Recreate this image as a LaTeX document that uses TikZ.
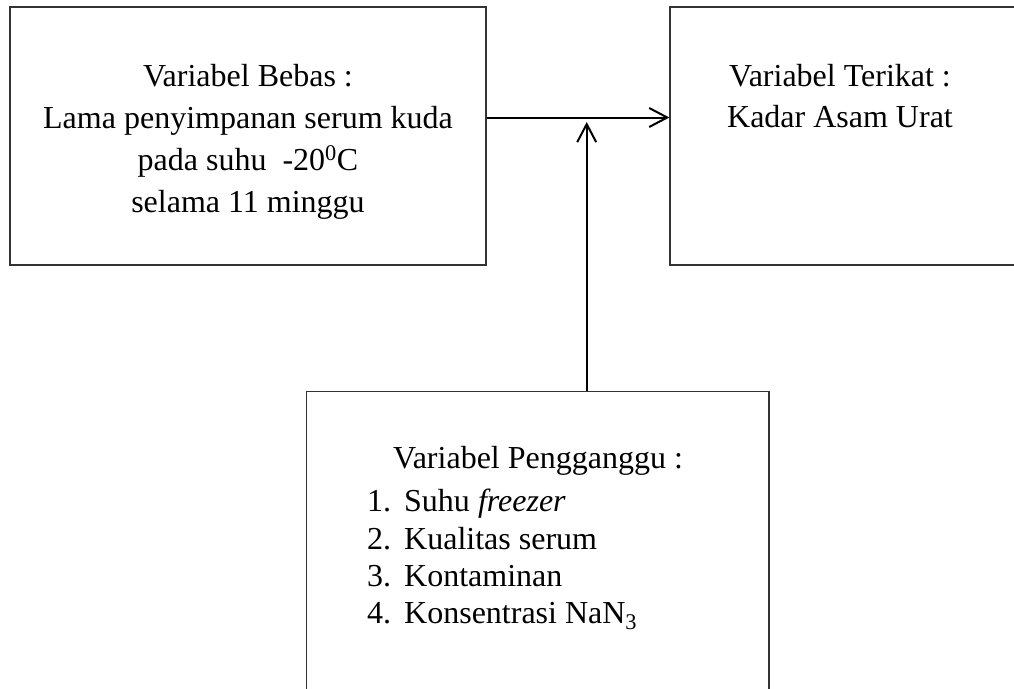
\documentclass[tikz,border=0pt]{standalone}
\usepackage{fontspec}
\setmainfont{Liberation Serif}
\usetikzlibrary{arrows.meta}
\begin{document}
\begin{tikzpicture}[x=1pt,y=-1pt,
  box/.style={draw=black!80,line width=1.3pt,rectangle,inner sep=0pt},
  txt/.style={anchor=base,inner sep=0pt,font=\fontsize{32}{42}\selectfont},
  txtl/.style={anchor=base west,inner sep=0pt,font=\fontsize{32}{42}\selectfont},
  arr/.style={line width=2pt,-{Straight Barb[length=18pt,width=19pt,line width=2pt]}}]
\useasboundingbox (0,0) rectangle (1014,688);
% boxes
\node[box,minimum width=476pt,minimum height=258pt] (free) at (248,136) {};
\node[box,minimum width=360pt,minimum height=258pt] (dep) at (850,136) {};
\node[box,minimum width=462.3pt,minimum height=328.3pt] (conf) at (537.85,555.85) {};
% left text
\node[txt] (f1) at (248,86) {Variabel Bebas :};
\node[txt] (f2) at (248,128) {Lama penyimpanan serum kuda};
\node[txt] (f3) at (248,170) {pada suhu\ \ -20\textsuperscript{0}C};
\node[txt] (f4) at (248,212) {selama 11 minggu};
% right text
\node[txt] (d1) at (840,86) {Variabel Terikat :};
\node[txt] (d2) at (840,127) {Kadar Asam Urat};
% bottom text
\node[txtl] (c0) at (393,468) {Variabel Pengganggu :};
\node[txtl] (n1) at (367,511) {1.};
\node[txtl] (c1) at (404,511) {Suhu \textit{freezer}};
\node[txtl] (n2) at (367,549) {2.};
\node[txtl] (c2) at (404,549) {Kualitas serum};
\node[txtl] (n3) at (367,586) {3.};
\node[txtl] (c3) at (404,586) {Kontaminan};
\node[txtl] (n4) at (367,623) {4.};
\node[txtl] (c4) at (404,623) {Konsentrasi NaN\textsubscript{3}};
% connectors
\draw[arr] ([yshift=18.5pt]free.east) -- ([yshift=18.5pt]dep.west);
\coordinate (meet) at (586.7,122);
\draw[arr] (conf.north -| meet) -- (meet);
\end{tikzpicture}
\end{document}
